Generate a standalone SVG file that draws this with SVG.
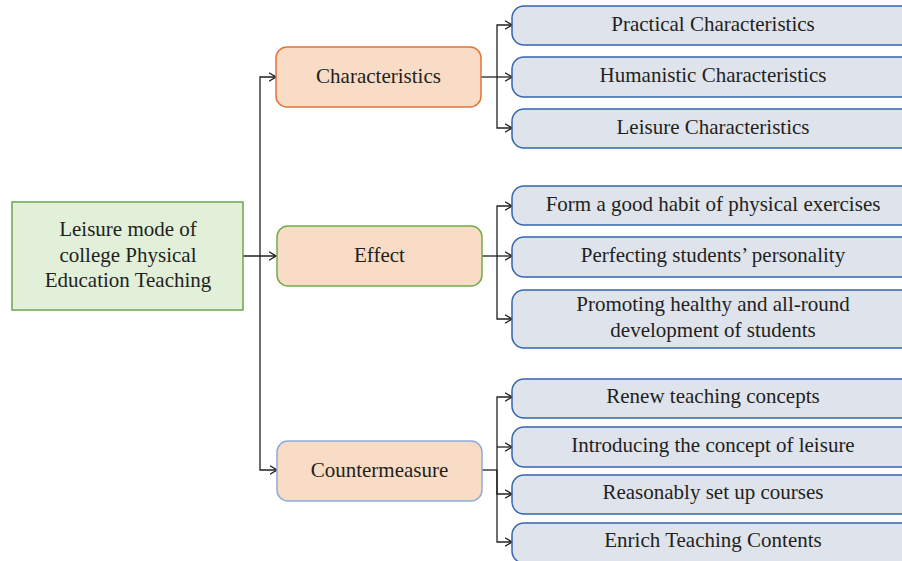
<svg xmlns="http://www.w3.org/2000/svg" width="902" height="561" viewBox="0 0 902 561">
<style>
text{font-family:"Liberation Serif","Times New Roman",serif;font-size:21px;fill:#231f20;text-anchor:middle;dominant-baseline:central}
.mid{fill:#f9dcc5;stroke-width:1.5}
.leaf{fill:#dee3ec;stroke:#3565b0;stroke-width:1.5}
.conn{fill:none;stroke:#231f20;stroke-width:1.3}
</style>
<defs>
<marker id="arr" viewBox="0 0 8 10" markerWidth="8" markerHeight="10" refX="7.5" refY="5" orient="auto" markerUnits="userSpaceOnUse">
<path d="M0.5,0.8 L7.5,5 L0.5,9.2" fill="none" stroke="#231f20" stroke-width="1.3"/>
</marker>
</defs>
<rect width="902" height="561" fill="#ffffff"/>
<g id="connectors">
<path class="conn" d="M243,256 H276" marker-end="url(#arr)"/>
<path class="conn" d="M260,256 V77 H276" marker-end="url(#arr)"/>
<path class="conn" d="M260,256 V470 H277" marker-end="url(#arr)"/>
<path class="conn" d="M481,77 H512" marker-end="url(#arr)"/>
<path class="conn" d="M497,77 V25 H512" marker-end="url(#arr)"/>
<path class="conn" d="M497,77 V128 H512" marker-end="url(#arr)"/>
<path class="conn" d="M482,256 H512" marker-end="url(#arr)"/>
<path class="conn" d="M497,256 V206 H512" marker-end="url(#arr)"/>
<path class="conn" d="M497,256 V319 H512" marker-end="url(#arr)"/>
<path class="conn" d="M482,470 H497"/>
<path class="conn" d="M497,470 V397 H512" marker-end="url(#arr)"/>
<path class="conn" d="M497,447 H512" marker-end="url(#arr)"/>
<path class="conn" d="M497,470 V494 H512" marker-end="url(#arr)"/>
<path class="conn" d="M497,470 V542 H512" marker-end="url(#arr)"/>
</g>
<g id="root">
<rect x="12" y="202" width="231" height="108" fill="#e2efd9" stroke="#6aa84f" stroke-width="1.5"/>
<text x="128" y="229">Leisure mode of</text>
<text x="128" y="255">college Physical</text>
<text x="128" y="280">Education Teaching</text>
</g>
<g id="characteristics">
<rect class="mid" x="276" y="47" width="205" height="60" rx="11" stroke="#e2743a"/>
<text x="378.5" y="76">Characteristics</text>
</g>
<g id="effect">
<rect class="mid" x="277" y="226" width="205" height="60" rx="11" stroke="#70ad47"/>
<text x="379.5" y="255">Effect</text>
</g>
<g id="countermeasure">
<rect class="mid" x="277" y="441" width="205" height="60" rx="11" stroke="#8eaadc"/>
<text x="379.5" y="470">Countermeasure</text>
</g>
<g id="practical">
<rect class="leaf" x="512" y="6" width="404" height="39" rx="12"/>
<text x="713" y="24">Practical Characteristics</text>
</g>
<g id="humanistic">
<rect class="leaf" x="512" y="57" width="404" height="40" rx="12"/>
<text x="713" y="75">Humanistic Characteristics</text>
</g>
<g id="leisure">
<rect class="leaf" x="512" y="109" width="404" height="39" rx="12"/>
<text x="713" y="127">Leisure Characteristics</text>
</g>
<g id="habit">
<rect class="leaf" x="512" y="186" width="404" height="39" rx="12"/>
<text x="713" y="204">Form a good habit of physical exercises</text>
</g>
<g id="personality">
<rect class="leaf" x="512" y="237" width="404" height="40" rx="12"/>
<text x="713" y="255">Perfecting students’ personality</text>
</g>
<g id="development">
<rect class="leaf" x="512" y="290" width="404" height="58" rx="12"/>
<text x="713" y="304">Promoting healthy and all-round</text>
<text x="713" y="330">development of students</text>
</g>
<g id="renew">
<rect class="leaf" x="512" y="379" width="404" height="39" rx="12"/>
<text x="713" y="396">Renew teaching concepts</text>
</g>
<g id="introducing">
<rect class="leaf" x="512" y="427" width="404" height="40" rx="12"/>
<text x="713" y="445">Introducing the concept of leisure</text>
</g>
<g id="courses">
<rect class="leaf" x="512" y="475" width="404" height="39" rx="12"/>
<text x="713" y="492">Reasonably set up courses</text>
</g>
<g id="enrich">
<rect class="leaf" x="512" y="523" width="404" height="40" rx="12"/>
<text x="713" y="540">Enrich Teaching Contents</text>
</g>
</svg>
